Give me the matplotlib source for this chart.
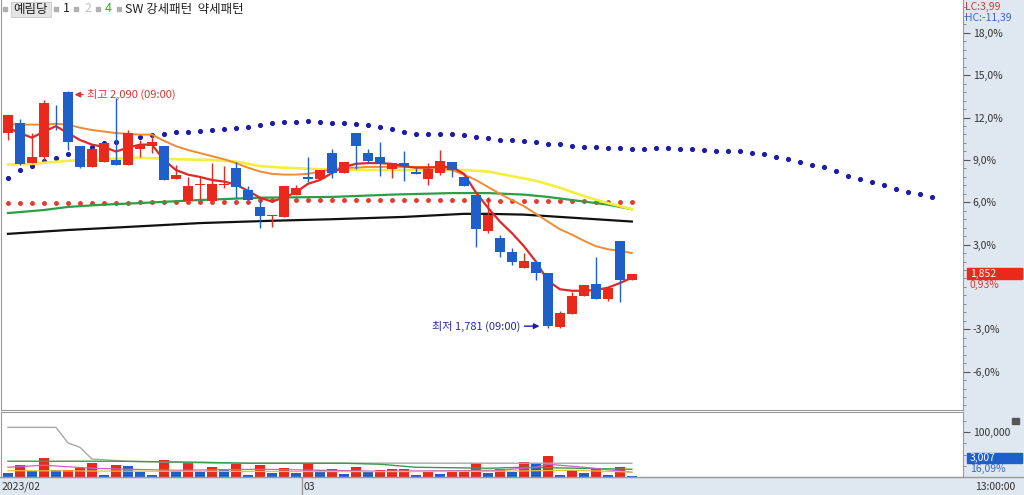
import numpy as np
import matplotlib
matplotlib.use("Agg")
import matplotlib.pyplot as plt
from matplotlib.patches import Rectangle
from matplotlib.ticker import FixedLocator, FuncFormatter, NullFormatter

plt.rcParams['font.family'] = ['Noto Sans CJK KR', 'DejaVu Sans']

# ---- price data (won), one candle per bar ----
opens = [2035, 2048, 1996, 2004, 2059, 2088, 2018, 1991, 1997, 2000,
         1994, 2014, 2018, 2018, 1975, 1947, 1968, 1947, 1968, 1990,
         1961, 1939, 1927, 1926, 1955, 1978, 1975, 2009, 1983, 2035,
         2009, 2004, 1988, 1996, 1984, 1975, 1983, 1997, 1978, 1955,
         1908, 1899, 1880, 1860, 1867, 1853, 1783, 1800, 1823, 1839,
         1819, 1895, 1844]
highs = [2059, 2053, 2035, 2078, 2072, 2090, 2018, 2016, 2022, 2081,
         2039, 2026, 2033, 2018, 1994, 1978, 1978, 1996, 1992, 1997,
         1966, 1948, 1929, 1966, 1968, 2004, 1987, 2014, 1997, 2035,
         2014, 2023, 1996, 2012, 1990, 1996, 2013, 1997, 1978, 1955,
         1952, 1903, 1886, 1879, 1867, 1853, 1804, 1828, 1838, 1874,
         1835, 1895, 1852]
lows = [2026, 1993, 1996, 2000, 2039, 2013, 1990, 1991, 1997, 1994,
        1994, 2004, 2009, 1974, 1975, 1947, 1948, 1947, 1964, 1951,
        1948, 1912, 1913, 1926, 1955, 1972, 1975, 1977, 1983, 1988,
        1996, 1979, 1977, 1973, 1982, 1968, 1981, 1978, 1966, 1887,
        1905, 1874, 1864, 1860, 1844, 1781, 1782, 1800, 1823, 1819,
        1817, 1815, 1844]
closes = [2059, 1995, 2004, 2074, 2058, 2023, 1991, 2014, 2022, 1994,
          2035, 2020, 2023, 1974, 1981, 1966, 1969, 1969, 1969, 1965,
          1948, 1927, 1929, 1966, 1964, 1975, 1987, 1983, 1997, 2018,
          1999, 1995, 1996, 1992, 1982, 1988, 1999, 1987, 1966, 1910,
          1929, 1880, 1867, 1869, 1853, 1784, 1801, 1823, 1838, 1819,
          1834, 1844, 1852]
volumes = [9800, 26200, 13400, 41200, 15000, 16600, 21000, 32200, 5400, 26200,
           23900, 11200, 5400, 38900, 13400, 33600, 11200, 22400, 18800, 30000,
           5400, 26200, 8900, 21000, 8900, 30000, 16600, 17000, 7600, 22400,
           10500, 16600, 16800, 17000, 5400, 13400, 7600, 11200, 15000, 32200,
           8900, 18800, 11200, 33600, 32200, 46300, 5400, 16600, 8900, 18800,
           5400, 22400, 3007]
base_price = 1835  # 0% reference of the right axis

# ---- overlays ----
ma_red = [2042, 2035, 2029, 2037, 2044, 2035, 2026, 2020, 2017, 2011,
          2016, 2020, 2020, 2000, 1987, 1981, 1978, 1974, 1972, 1968,
          1960, 1951, 1946, 1951, 1958, 1969, 1974, 1983, 1991, 1995,
          1996, 1996, 1995, 1992, 1990, 1990, 1991, 1991, 1982, 1958,
          1938, 1920, 1905, 1888, 1868, 1843, 1832, 1830, 1830, 1831,
          1834, 1840, 1847]
ma_orange = [2047, 2046, 2046, 2046, 2047, 2046, 2042, 2039, 2037, 2035,
             2034, 2033, 2033, 2025, 2018, 2013, 2009, 2005, 2001, 1996,
             1990, 1985, 1982, 1981, 1981, 1982, 1985, 1988, 1990, 1990,
             1991, 1991, 1991, 1991, 1991, 1991, 1990, 1987, 1981, 1974,
             1965, 1956, 1948, 1940, 1930, 1920, 1910, 1903, 1895, 1888,
             1884, 1882, 1879]
yellow_idx = [0, 2, 5, 8, 11, 14, 17, 19, 21, 23, 26, 30, 34, 38, 40, 42, 44, 46, 48, 50, 52]
ma_yellow = [1994, 1995, 1999, 2001, 2003, 2001, 2000, 1998, 1992, 1990, 1988,
             1987, 1987, 1987, 1985, 1979, 1973, 1964, 1953, 1944, 1936]
green_idx = [0, 3, 5, 8, 11, 16, 21, 27, 32, 37, 40, 43, 45, 48, 50, 52]
ma_green = [1931, 1935, 1939, 1942, 1944, 1948, 1951, 1952, 1955, 1957, 1957,
            1955, 1952, 1946, 1942, 1936]
black_idx = [0, 5, 10, 16, 22, 27, 33, 38, 40, 43, 47, 52]
ma_black = [1904, 1909, 1913, 1918, 1921, 1923, 1926, 1930, 1930, 1929, 1925, 1920]
red_dots = [1944] * 11 + [1946] * 10 + [1948] * 20 + [1947] * 8 + [1946] * 4
lead_span = [1977, 1987, 1992, 1999, 2003, 2008, 2012, 2017, 2022, 2024,
             2026, 2030, 2033, 2034, 2037, 2037, 2038, 2039, 2040, 2042,
             2043, 2046, 2048, 2050, 2050, 2051, 2050, 2048, 2048, 2047,
             2046, 2043, 2040, 2037, 2034, 2034, 2034, 2034, 2033, 2030,
             2029, 2026, 2026, 2025, 2024, 2021, 2021, 2018, 2017, 2017,
             2016, 2016, 2014, 2014, 2016, 2016, 2014, 2014, 2013, 2012,
             2012, 2012, 2009, 2008, 2004, 2001, 1998, 1994, 1991, 1986,
             1979, 1975, 1972, 1968, 1962, 1958, 1956, 1952]

# volume moving averages
vgray_idx = [0, 4, 5, 6, 7, 10, 17, 52]
vol_gray = [110500, 110500, 76000, 66000, 40000, 35000, 31000, 30600]
vgreen_idx = [0, 9, 16, 20, 28, 31, 34, 40, 43, 52]
vol_green = [35100, 35100, 32900, 30600, 30600, 28400, 21700, 19500, 21700, 17200]
vpink_idx = [0, 3, 7, 10, 14, 21, 31, 41, 44, 45, 48, 52]
vol_pink = [21700, 26200, 19500, 17200, 15000, 17200, 12800, 15000, 21700, 28400, 21700, 10500]
vyellow_idx = [0, 10, 20, 30, 40, 47, 52]
vol_yellow = [14000, 13000, 12500, 12000, 12500, 15000, 11000]

RED = '#e8291c'
BLUE = '#1f5fc9'
AXBG = '#dfe7f1'

W, H = 1024, 495
fig = plt.figure(figsize=(W / 100, H / 100), dpi=100)


def fx(px):
    return px / W


def fy(py):
    return 1 - py / H


ax = fig.add_axes([fx(1), fy(410), fx(962), 410 / H])
axv = fig.add_axes([fx(1), fy(477), fx(962), 65 / H])

x = np.arange(len(closes))
o = np.array(opens); c = np.array(closes)
up = c >= o
col = np.where(up, RED, BLUE)

# overlays
ax.plot(np.arange(len(lead_span)), lead_span, ls='none', marker='o', ms=2.7,
        color='#1c1ca8', zorder=2)
ax.plot(x, red_dots, ls='none', marker='o', ms=2.5, color='#e33a30', zorder=2)
ax.plot(black_idx, ma_black, color='#111111', lw=1.6, zorder=2)
ax.plot(green_idx, ma_green, color='#2e9e44', lw=1.6, zorder=2)
ax.plot(yellow_idx, ma_yellow, color='#f4ee3c', lw=1.9, zorder=2)
ax.plot(x, ma_orange, color='#f08a34', lw=1.4, zorder=2)
ax.plot(x, ma_red, color='#e02828', lw=1.6, zorder=2)

# candles
ax.vlines(x, lows, highs, colors=col, lw=1, zorder=3)
body = np.abs(c - o)
body = np.where(body < 1, 1, body)
ax.bar(x, body, bottom=np.minimum(o, c), width=0.8, color=col, zorder=4)

ax.set_xlim(-0.58, 79.6)
ax.set_ylim(1675, 2208)

pct_major = [-6, -3, 3, 6, 9, 12, 15, 18]
pct_minor = np.arange(-9, 21.1, 0.6)
ax.yaxis.tick_right()
ax.yaxis.set_major_locator(FixedLocator([base_price * (1 + p / 100) for p in pct_major]))
ax.yaxis.set_minor_locator(FixedLocator([base_price * (1 + p / 100) for p in pct_minor]))
ax.yaxis.set_major_formatter(FuncFormatter(
    lambda v, pos: f"{(v / base_price - 1) * 100:.1f}%".replace('.', ',')))
ax.yaxis.set_minor_formatter(NullFormatter())
ax.tick_params(axis='y', which='major', length=5, pad=2, labelsize=7.5,
               colors='#555', labelcolor='#333')
ax.tick_params(axis='y', which='minor', length=2.5, colors='#777')
ax.set_xticks([])
for s in ax.spines.values():
    s.set_color('#9a9a9a')
ax.spines['top'].set_visible(False)

# annotations
ax.annotate('최고 2,090 (09:00)', xy=(5.55, 2085), xytext=(6.6, 2085),
            color='#d23a32', fontsize=8, va='center', ha='left',
            arrowprops=dict(arrowstyle='-|>', color='#d23a32', lw=1,
                            shrinkA=1, shrinkB=0, mutation_scale=8))
ax.annotate('최저 1,781 (09:00)', xy=(44.3, 1784), xytext=(42.7, 1784),
            color='#2a2a96', fontsize=8, va='center', ha='right',
            arrowprops=dict(arrowstyle='-|>', color='#1c1ca8', lw=1,
                            shrinkA=1, shrinkB=0, mutation_scale=8))

# volume pane
v = np.array(volumes)
vup = np.r_[False, v[1:] >= v[:-1]]
axv.bar(x, v, width=0.8, color=np.where(vup, RED, BLUE), zorder=2)
axv.plot(vgray_idx, vol_gray, color='#a8a8a8', lw=1, zorder=3)
axv.plot(vgreen_idx, vol_green, color='#3a9a50', lw=1, zorder=3)
axv.plot(vpink_idx, vol_pink, color='#c860c8', lw=0.9, zorder=3)
axv.plot(vyellow_idx, vol_yellow, color='#e8c040', lw=0.9, zorder=3)
axv.set_xlim(-0.58, 79.6)
axv.set_ylim(0, 144700)
axv.yaxis.tick_right()
axv.yaxis.set_major_locator(FixedLocator([100000]))
axv.yaxis.set_minor_locator(FixedLocator([25000, 50000, 75000, 125000]))
axv.yaxis.set_major_formatter(FuncFormatter(lambda val, pos: f"{val:,.0f}"))
axv.tick_params(axis='y', which='major', length=5, pad=2, labelsize=7.5,
                colors='#555', labelcolor='#333')
axv.tick_params(axis='y', which='minor', length=2.5, colors='#777')
axv.set_xticks([])
for s in axv.spines.values():
    s.set_color('#9a9a9a')

# axis strips
fig.patches.append(Rectangle((fx(963), 0), fx(61), 1, transform=fig.transFigure,
                             color=AXBG, zorder=-1))
fig.patches.append(Rectangle((0, 0), 1, 18 / H, transform=fig.transFigure,
                             color=AXBG, zorder=-1))
fig.add_artist(plt.Line2D([0, 1], [fy(477), fy(477)], transform=fig.transFigure,
                          color='#9a9a9a', lw=1))
fig.add_artist(plt.Line2D([fx(302), fx(302)], [fy(477), 0], transform=fig.transFigure,
                          color='#9a9a9a', lw=1))

fig.text(fx(2), fy(487), '2023/02', fontsize=7.5, color='#333', va='center')
fig.text(fx(304), fy(487), '03', fontsize=7.5, color='#333', va='center')
fig.text(fx(975), fy(487), '13:00:00', fontsize=7.5, color='#333', va='center')

fig.text(fx(965), fy(7), 'LC:3,99', fontsize=7.5, color='#d23a32', va='center')
fig.text(fx(965), fy(18), 'HC:-11,39', fontsize=7.5, color='#3a6ac8', va='center')

fig.patches.append(Rectangle((fx(967), fy(279)), fx(55), 11 / H, transform=fig.transFigure,
                             color=RED, zorder=5))
fig.text(fx(970), fy(273.5), '1,852', fontsize=7.5, color='white', va='center', zorder=6)
fig.text(fx(970), fy(285), '0,93%', fontsize=7.5, color='#d23a32', va='center')

fig.patches.append(Rectangle((fx(967), fy(463)), fx(55), 10 / H, transform=fig.transFigure,
                             color=BLUE, zorder=5))
fig.text(fx(970), fy(458), '3,007', fontsize=7.5, color='white', va='center', zorder=6)
fig.text(fx(970), fy(469), '16,09%', fontsize=7.5, color='#3a6ac8', va='center')
fig.patches.append(Rectangle((fx(1012), fy(424)), fx(7), 6 / H, transform=fig.transFigure,
                             color='#555555', zorder=5))

# header
sq = '#b0b0b0'
for px in [3, 54, 74, 96, 117]:
    fig.patches.append(Rectangle((fx(px), fy(11)), fx(4), 4 / H, transform=fig.transFigure,
                                 color=sq, zorder=5))
fig.patches.append(Rectangle((fx(11), fy(17)), fx(40), 15 / H, transform=fig.transFigure,
                             facecolor='#e4e4e4', edgecolor='#c8c8c8', lw=0.6, zorder=4))
fig.text(fx(13), fy(9), '예림당', fontsize=9, color='#222', va='center', zorder=6)
fig.text(fx(63), fy(9), '1', fontsize=9, color='#222', va='center')
fig.text(fx(84), fy(9), '2', fontsize=9, color='#c0c0c0', va='center')
fig.text(fx(105), fy(9), '4', fontsize=9, color='#2fb52f', va='center')
fig.text(fx(125), fy(9), 'SW 강세패턴  약세패턴', fontsize=9, color='#222', va='center')

fig.savefig('out.png', dpi=100)
